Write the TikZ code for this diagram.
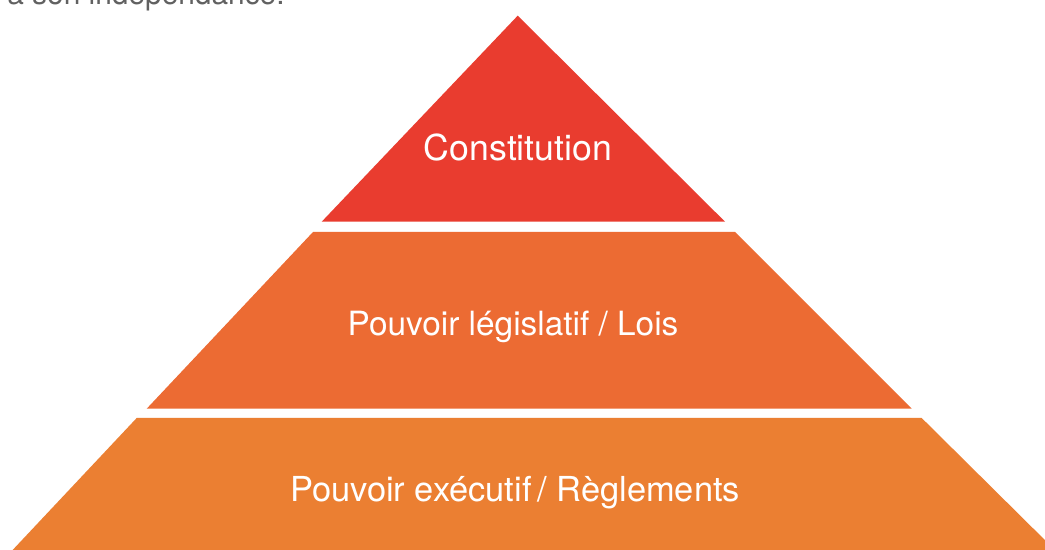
\documentclass[tikz,border=0pt]{standalone}
\usepackage{fontspec}
\setmainfont{TeX Gyre Heros}
\usepackage{tikz}
\definecolor{tierone}{HTML}{E93C2F}
\definecolor{tiertwo}{HTML}{EC6B33}
\definecolor{tierthree}{HTML}{EB7F32}
\tikzstyle{tiertext}=[text=white,inner sep=0pt,font=\fontsize{19}{23}\selectfont]

\begin{document}
\begin{tikzpicture}[x=0.02cm,y=-0.02cm]
\useasboundingbox (0,0) rectangle (1045,550);
\clip (0,0) rectangle (1045,550);
\fill[white] (0,0) rectangle (1045,550);
\node[anchor=base west,inner sep=0pt,text=black!62,font=\fontsize{17}{20}\selectfont] (intro) at (7,5) {a son indépendance.};
\fill[tierone] (517.7,15.7)--(725,221.7)--(321.7,221.7)--cycle;
\fill[tiertwo] (313,232)--(735,232)--(911.7,408.7)--(146.7,408.7)--cycle;
\fill[tierthree] (136.7,418)--(921.7,418)--(1061,556)--(7,556)--cycle;
\node[tiertext,font=\fontsize{20.3}{24}\selectfont] (constitution) at (518,148) {Constitution};
\node[tiertext] (lois) at (513,327) {Pouvoir législatif / Lois};
\node[tiertext,font=\fontsize{19.6}{23}\selectfont] (reglements) at (515,493) {Pouvoir exécutif\,/ Règlements};
\end{tikzpicture}
\end{document}
